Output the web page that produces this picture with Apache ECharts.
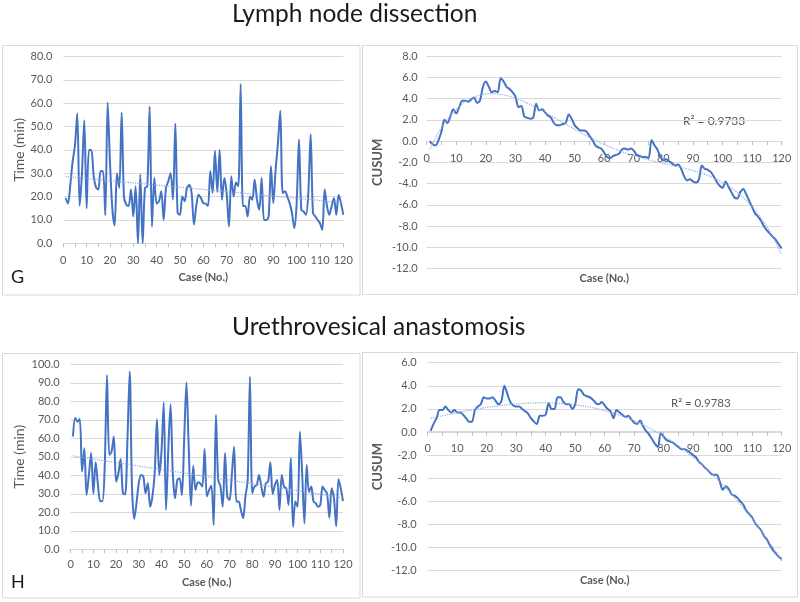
<!DOCTYPE html>
<html><head><meta charset="utf-8">
<script src="https://cdn.jsdelivr.net/npm/echarts@6/dist/echarts.min.js"></script>
<style>html,body{margin:0;padding:0;background:#fff}#c{width:800px;height:602px}</style>
</head><body><div id="c"></div>
<script>
// ---- Data ----
const lymphTime = [19.4, 17, 25, 35, 42, 55.7, 16, 30, 52.7, 15,
 40, 40, 29, 24, 23, 31, 31, 12, 60.3, 35,
 15, 7.6, 30, 23.7, 56, 20, 16.5, 16, 23, 11.5,
 24.4, 0, 29.5, 0, 23.7, 24.4, 58.6, 7.2, 28, 17,
 18, 22.3, 10, 23.7, 26.6, 30, 18.7, 51.3, 13, 12.2,
 20, 18, 23.7, 25, 21.5, 8, 16, 20.8, 19.4, 17.2,
 17, 16, 31, 21.5, 39.5, 22, 40, 18.7, 28, 21.5,
 7.2, 28.7, 20, 26, 24.4, 68.2, 16, 16, 11.5, 20,
 18.7, 27.3, 18.7, 14.4, 28, 10, 10, 11.5, 33, 17.2,
 31.6, 43, 56.8, 21.5, 22.3, 20, 17.2, 13, 6.5, 17,
 44.5, 14.4, 13.6, 12.2, 21.5, 46.7, 13, 11.5, 10, 8.6,
 5.7, 23, 16, 12.2, 15.8, 19.4, 12.2, 20.8, 17.2, 12.2];

const lymphCusum = [0.0, -0.3, -0.4, 0.1, 0.9, 2.0, 1.7, 2.3, 3.0, 2.6,
 3.2, 3.8, 3.8, 3.7, 3.9, 4.1, 3.6, 3.8, 5.1, 5.6,
 5.1, 4.6, 4.7, 4.6, 5.9, 5.6, 5.1, 4.9, 4.6, 4.2,
 3.2, 3.3, 2.3, 2.2, 2.1, 2.2, 3.5, 2.9, 3.0, 2.7,
 2.4, 2.2, 1.7, 1.5, 1.5, 1.6, 1.7, 2.5, 2.1, 1.5,
 1.2, 1.0, 1.0, 0.9, 0.5, 0.1, -0.4, -0.6, -0.7, -1.1,
 -1.5, -1.6, -1.4, -1.3, -1.2, -0.8, -0.7, -0.8, -0.7, -0.9,
 -1.3, -1.4, -1.5, -1.5, -1.6, 0.1, -0.4, -0.8, -1.5, -1.8,
 -1.7, -1.9, -2.1, -2.3, -2.2, -2.6, -3.3, -3.7, -3.6, -3.8,
 -3.9, -3.6, -2.3, -2.6, -2.7, -2.9, -3.3, -3.8, -4.2, -4.4,
 -3.8, -4.3, -4.8, -5.3, -5.4, -4.8, -4.5, -5.0, -5.6, -6.2,
 -6.8, -7.1, -7.5, -8.0, -8.4, -8.7, -9.0, -9.3, -9.7, -10.1];

const uvaTime = [61, 71, 69, 70.5, 42, 54.6, 29.4, 40, 52, 30,
 47, 35, 26, 26, 45, 94.2, 51, 52.8, 61, 36.6,
 41, 48.8, 30.3, 29.7, 59, 96, 33.9, 16.4, 24.9, 35.7,
 40.2, 39.3, 30.3, 35.7, 23, 28.5, 41, 70.3, 40.2, 52.8,
 79.3, 21.3, 53.7, 78.4, 41, 27.6, 37.5, 38.4, 29.4, 59.1,
 90.1, 55.5, 23.6, 45, 32, 36.2, 35.7, 33.9, 54.2, 28.5,
 32, 34.4, 13.2, 72.6, 37.5, 34, 23, 52, 28.5, 26.7,
 40, 55.5, 25.8, 25.8, 21.3, 16.8, 28.5, 37.5, 93.3, 30.3,
 33.9, 34.8, 40.2, 33.9, 28.5, 35.7, 36.6, 47, 30, 34.8,
 37.5, 21.3, 40.2, 33.9, 33, 24, 49.2, 12.2, 25.8, 23,
 63.6, 41, 14, 45.6, 31, 33.9, 25.8, 24.9, 23, 24,
 33.9, 32, 30, 17, 33, 28, 12.5, 38, 33, 26];

const uvaCusum = [0.1, 0.7, 1.2, 1.9, 1.9, 2.2, 1.9, 1.7, 1.9, 1.7,
 1.7, 1.5, 1.2, 0.9, 0.9, 1.9, 2.2, 2.4, 3.0, 2.9,
 2.9, 3.0, 2.7, 2.4, 2.7, 4.0, 3.3, 2.6, 2.3, 2.2,
 2.2, 2.0, 1.8, 1.6, 1.2, 0.9, 0.7, 1.4, 1.4, 1.5,
 2.5, 2.0, 2.0, 3.0, 3.0, 2.6, 2.4, 2.4, 2.0, 2.4,
 3.7, 3.6, 3.2, 3.1, 3.0, 2.8, 2.5, 2.4, 2.6, 2.3,
 2.0, 1.8, 1.2, 1.9, 1.7, 1.5, 1.3, 1.4, 1.1, 0.8,
 0.7, 1.0, 0.5, 0.1, -0.2, -0.6, -1.0, -1.3, -0.1, -0.4,
 -0.7, -0.8, -0.9, -1.1, -1.3, -1.5, -1.5, -1.6, -1.8, -2.0,
 -2.2, -2.6, -2.8, -3.1, -3.3, -3.6, -3.7, -3.7, -4.3, -5.0,
 -4.7, -4.9, -5.4, -5.5, -5.7, -6.0, -6.3, -6.8, -7.1, -7.4,
 -7.9, -8.2, -8.5, -9.0, -9.3, -9.8, -10.2, -10.5, -10.8, -11.0];

const titles = ['Lymph node dissection', 'Urethrovesical anastomosis'];
const panelLetters = ['G', 'H'];
const r2Labels = ['R\u00B2 = 0.9733', 'R\u00B2 = 0.9783'];
const xName = 'Case (No.)';
const timeName = 'Time (min)';
const cusumName = 'CUSUM';

// ---- helpers ----
function pairs(arr){ return arr.map((v,i)=>[i+1, v]); }
function polyFit(ys, order){
  const n = ys.length, m = order+1;
  const xs = ys.map((_,i)=>(i+1)/120);
  const A = Array.from({length:m},()=>new Array(m+1).fill(0));
  for(let r=0;r<m;r++){
    for(let c=0;c<m;c++){ let s=0; for(let i=0;i<n;i++) s+=Math.pow(xs[i],r+c); A[r][c]=s; }
    let s=0; for(let i=0;i<n;i++) s+=ys[i]*Math.pow(xs[i],r); A[r][m]=s;
  }
  for(let col=0;col<m;col++){
    let p=col; for(let r=col+1;r<m;r++) if(Math.abs(A[r][col])>Math.abs(A[p][col])) p=r;
    [A[col],A[p]]=[A[p],A[col]];
    for(let r=0;r<m;r++){ if(r===col) continue; const f=A[r][col]/A[col][col]; for(let c=col;c<=m;c++) A[r][c]-=f*A[col][c]; }
  }
  const coef = A.map((row,i)=>row[m]/row[i]);
  const f = x => { const t=x/120; let s=0; for(let k=0;k<m;k++) s+=coef[k]*Math.pow(t,k); return s; };
  return {f};
}
function trendPts(fit){ const out=[]; for(let x=1;x<=120;x+=0.5) out.push([x, fit(x)]); return out; }

// linear trend for times, 4th-order polynomial trend for CUSUM (matches the R² shown)
const fitLymphT = polyFit(lymphTime,1), fitUvaT = polyFit(uvaTime,1);
const fitLymphC = polyFit(lymphCusum,4), fitUvaC = polyFit(uvaCusum,4);

// ---- styles ----
const FONT = 'Lato';
const LBL = '#595959';
const GRID = '#D9D9D9';
const BLUE = '#4472C4';
const TREND = '#8FAADC';

const grids = [
  {left:63.3, top:56.5, width:280, height:186.8},
  {left:426.7, top:56, width:355, height:212.7},
  {left:70.7, top:364.3, width:272.3, height:185},
  {left:427.7, top:362.7, width:354, height:208}
].map(g=>Object.assign(g,{containLabel:false, outerBoundsMode:'none'}));
const yCfg = [
  {min:0, max:80, interval:10, name:timeName, nameGap:37, margin:11, bold:false, size:14},
  {min:-12, max:8, interval:2, name:cusumName, nameGap:42, margin:9, bold:true, size:13},
  {min:0, max:100, interval:10, name:timeName, nameGap:44, margin:11, bold:false, size:14},
  {min:-12, max:6, interval:2, name:cusumName, nameGap:43, margin:11, bold:true, size:13}
];
// offset lifts the CUSUM x axes up to the zero line (y = 141 and y = 431.7)
const xCfg = [
  {margin:12, nameGap:29, offset:0},
  {margin:12, nameGap:132, offset:-(268.7-141)},
  {margin:10, nameGap:28, offset:0},
  {margin:11, nameGap:143, offset:-(570.7-431.7)}
];

const xAxes = xCfg.map((c,i)=>({
  gridIndex:i, type:'value', min:0, max:120, interval:10, position:'bottom', offset:c.offset,
  axisLine:{show:true, onZero:false, lineStyle:{color:GRID, width:1}},
  axisTick:{show:true, length:4, lineStyle:{color:'#BFBFBF'}},
  minorTick:{show:true, splitNumber:2, length:4, lineStyle:{color:'#BFBFBF'}},
  splitLine:{show:false},
  axisLabel:{color:LBL, fontSize:11, fontFamily:FONT, margin:c.margin},
  name:xName, nameLocation:'middle', nameGap:c.nameGap,
  nameTextStyle:{color:LBL, fontSize:11, fontWeight:'bold', fontFamily:FONT}
}));
const yAxes = yCfg.map((c,i)=>({
  gridIndex:i, type:'value', min:c.min, max:c.max, interval:c.interval,
  axisLine:{show:false}, axisTick:{show:false},
  splitLine:{show:true, lineStyle:{color:GRID, width:1}},
  axisLabel:{color:LBL, fontSize:11, fontFamily:FONT, margin:c.margin, formatter:v=>v.toFixed(1)},
  name:c.name, nameLocation:'middle', nameGap:c.nameGap, nameRotate:90,
  nameTextStyle:{color:LBL, fontSize:c.size, fontWeight:c.bold?'bold':'normal', fontFamily:FONT}
}));

const dataSets = [lymphTime, lymphCusum, uvaTime, uvaCusum];
const fits = [fitLymphT, fitLymphC, fitUvaT, fitUvaC];
const series = [];
dataSets.forEach((d,i)=>{
  series.push({type:'line', xAxisIndex:i, yAxisIndex:i, data:pairs(d), showSymbol:false, smooth:0.3,
    lineStyle:{color:BLUE, width:2}, z:2, silent:true});
  series.push({type:'line', xAxisIndex:i, yAxisIndex:i, data:trendPts(fits[i].f), showSymbol:false, smooth:false,
    lineStyle:{color:TREND, width:1.2, type:'dotted'}, z:3, silent:true});
});

const graphic = [
  {type:'rect', shape:{x:2.5, y:45.5, width:357.5, height:249.5}, style:{fill:'none', stroke:GRID, lineWidth:1}, z:-1},
  {type:'rect', shape:{x:362.5, y:45.5, width:435, height:249}, style:{fill:'none', stroke:GRID, lineWidth:1}, z:-1},
  {type:'rect', shape:{x:2.5, y:353.5, width:357.5, height:244.5}, style:{fill:'none', stroke:GRID, lineWidth:1}, z:-1},
  {type:'rect', shape:{x:362.5, y:352.5, width:435, height:244.5}, style:{fill:'none', stroke:GRID, lineWidth:1}, z:-1},
  {type:'text', x:232, y:14, style:{text:titles[0], font:'24.5px Lato', fill:'#1a1a1a', verticalAlign:'middle'}},
  {type:'text', x:232, y:327.5, style:{text:titles[1], font:'24.5px Lato', fill:'#1a1a1a', verticalAlign:'middle'}},
  {type:'text', x:11, y:277, style:{text:panelLetters[0], font:'18px Lato', fill:'#1a1a1a', verticalAlign:'middle'}},
  {type:'text', x:11, y:582.5, style:{text:panelLetters[1], font:'18px Lato', fill:'#1a1a1a', verticalAlign:'middle'}},
  {type:'text', x:683, y:121, style:{text:r2Labels[0], font:'12px Lato', fill:LBL, verticalAlign:'middle'}},
  {type:'text', x:671, y:403, style:{text:r2Labels[1], font:'11.5px Lato', fill:LBL, verticalAlign:'middle'}}
];

const chart = echarts.init(document.getElementById('c'), null, {renderer:'canvas'});
chart.setOption({animation:false, backgroundColor:'#fff', grid:grids, xAxis:xAxes, yAxis:yAxes, series, graphic});
</script></body></html>
